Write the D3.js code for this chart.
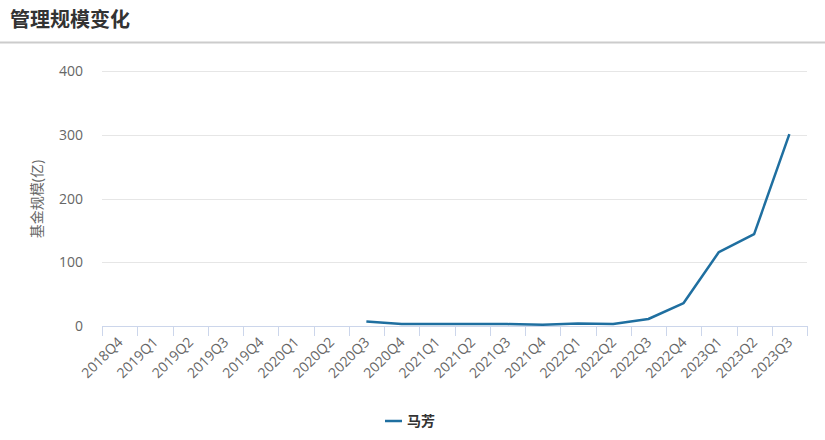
<!DOCTYPE html>
<html>
<head>
<meta charset="utf-8">
<script src="https://cdn.jsdelivr.net/npm/d3@7/dist/d3.min.js"></script>
<style>
  body { margin: 0; background: #fff; }
  svg { display: block; font-family: "Open Sans", "Noto Sans CJK SC", sans-serif; }
</style>
</head>
<body>
<svg width="825" height="440"></svg>
<script>
// quarters on the x axis
var quarters = ["2018Q4","2019Q1","2019Q2","2019Q3","2019Q4","2020Q1","2020Q2","2020Q3",
  "2020Q4","2021Q1","2021Q2","2021Q3","2021Q4","2022Q1","2022Q2","2022Q3",
  "2022Q4","2023Q1","2023Q2","2023Q3"];

// fund size (亿), null = no data
var sizes = [null,null,null,null,null,null,null,7,
  3,3,3,3,2,4,3,11,
  36,116,144,301];

var yTicks = [0, 100, 200, 300, 400];
var seriesName = "马芳";

var svg = d3.select("svg"),
    width = +svg.attr("width"),
    height = +svg.attr("height");

var plotLeft = 102, plotRight = 807, plotTop = 71, plotBottom = 326;

// title + separator
svg.append("text")
    .attr("x", 10).attr("y", 27)
    .attr("font-size", 20).attr("font-weight", "bold")
    .attr("fill", "#333")
    .text("管理规模变化");
svg.append("line")
    .attr("x1", 0).attr("x2", width)
    .attr("y1", 42.5).attr("y2", 42.5)
    .attr("stroke", "#ccc").attr("stroke-width", 2);

var x = d3.scaleBand().domain(quarters).range([plotLeft, plotRight]);
var y = d3.scaleLinear().domain([0, 400]).range([plotBottom, plotTop]);

// gridlines
svg.append("g")
  .selectAll("line")
  .data(yTicks.filter(function(d) { return d > 0; }))
  .enter().append("line")
    .attr("x1", plotLeft).attr("x2", plotRight)
    .attr("y1", function(d) { return Math.round(y(d)) + 0.5; })
    .attr("y2", function(d) { return Math.round(y(d)) + 0.5; })
    .attr("stroke", "#e6e6e6");

// y tick labels
svg.append("g")
  .selectAll("text")
  .data(yTicks)
  .enter().append("text")
    .attr("x", 83)
    .attr("y", function(d) { return y(d) + 5; })
    .attr("text-anchor", "end")
    .attr("font-size", 14)
    .attr("fill", "#666")
    .text(function(d) { return d; });

// y axis title
svg.append("text")
    .attr("transform", "translate(42,199) rotate(-90)")
    .attr("text-anchor", "middle")
    .attr("font-size", 14)
    .attr("fill", "#666")
    .text("基金规模(亿)");

// x axis line and ticks at band edges
var xAxis = svg.append("g");
xAxis.append("line")
    .attr("x1", plotLeft).attr("x2", plotRight + 0.5)
    .attr("y1", plotBottom + 0.5).attr("y2", plotBottom + 0.5)
    .attr("stroke", "#ccd6eb");
var edges = quarters.map(function(q) { return x(q); }).concat([plotRight]);
xAxis.selectAll("line.tick")
  .data(edges)
  .enter().append("line")
    .attr("class", "tick")
    .attr("x1", function(d) { return Math.round(d) + 0.5; })
    .attr("x2", function(d) { return Math.round(d) + 0.5; })
    .attr("y1", plotBottom).attr("y2", plotBottom + 10)
    .attr("stroke", "#ccd6eb");

xAxis.selectAll("text")
  .data(quarters)
  .enter().append("text")
    .attr("transform", function(d) {
      return "translate(" + (x(d) + x.bandwidth() / 2 + 4) + "," + (plotBottom + 17) + ") rotate(-45)";
    })
    .attr("text-anchor", "end")
    .attr("font-size", 14)
    .attr("fill", "#666")
    .text(function(d) { return d; });

// series line
var line = d3.line()
    .defined(function(d) { return d != null; })
    .x(function(d, i) { return x(quarters[i]) + x.bandwidth() / 2; })
    .y(function(d) { return y(d); });

svg.append("path")
    .datum(sizes)
    .attr("d", line)
    .attr("fill", "none")
    .attr("stroke", "#1f6fa0")
    .attr("stroke-width", 2.5)
    .attr("stroke-linejoin", "round");

// legend
var legend = svg.append("g").attr("transform", "translate(385,421)");
legend.append("line")
    .attr("x1", 0).attr("x2", 17)
    .attr("stroke", "#1f6fa0").attr("stroke-width", 2.5);
legend.append("text")
    .attr("x", 22).attr("y", 5)
    .attr("font-size", 14).attr("font-weight", "bold")
    .attr("fill", "#333")
    .text(seriesName);
</script>
</body>
</html>
